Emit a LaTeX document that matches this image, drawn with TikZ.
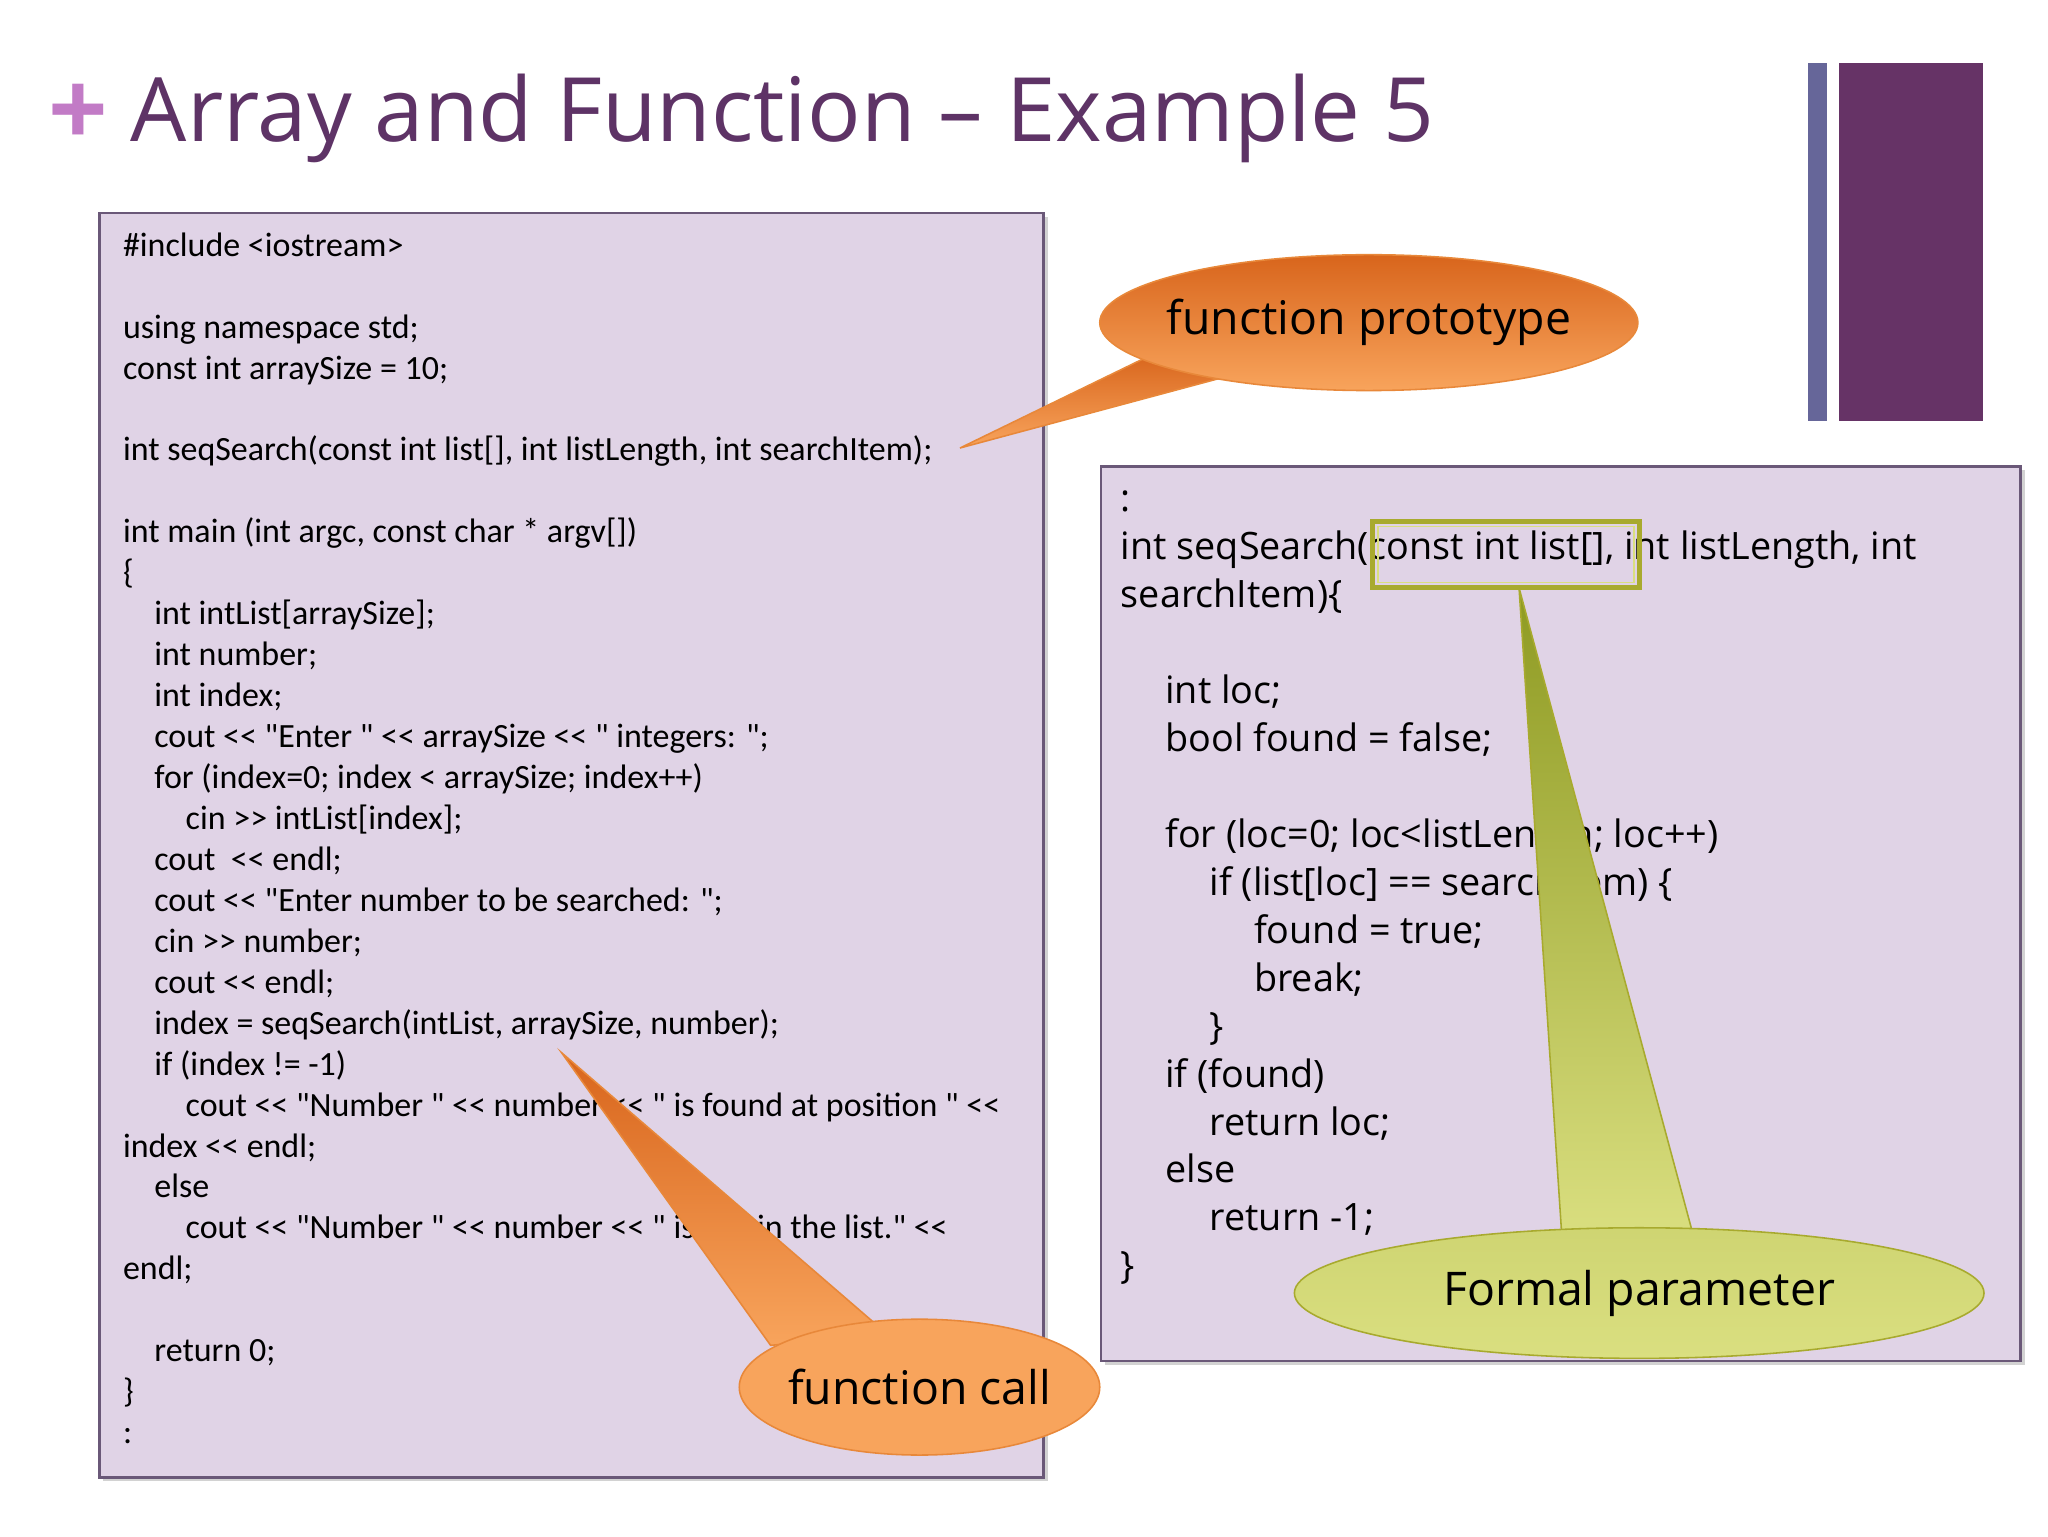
\documentclass[tikz,border=0pt]{standalone}
\usepackage{fontspec}
\setmainfont{Open Sans}
\newfontfamily\codefont{Carlito}
\usetikzlibrary{shadows,shapes.geometric}
\definecolor{boxfill}{HTML}{E0D3E6}
\definecolor{boxline}{HTML}{6A5878}
\definecolor{titlec}{HTML}{5E3366}
\definecolor{plumbar}{HTML}{663366}
\definecolor{slatebar}{HTML}{666699}
\definecolor{plusc}{HTML}{C27BC6}
\definecolor{orgA}{HTML}{D8651C}
\definecolor{orgB}{HTML}{F8A45C}
\definecolor{orgL}{HTML}{E8883A}
\definecolor{ylwA}{HTML}{8E9A22}
\definecolor{ylwB}{HTML}{DADF80}
\definecolor{ylwL}{HTML}{A8AA2E}
\tikzset{
 codebox/.style={fill=boxfill,draw=boxline,line width=2pt,drop shadow={opacity=0.35,shadow xshift=3pt,shadow yshift=-3pt}},
 lcode/.style={anchor=north west,inner sep=0pt,align=left,font=\codefont\fontsize{26}{31.35}\selectfont},
 rcode/.style={anchor=north west,inner sep=0pt,align=left,font=\fontsize{28.9}{36.7}\selectfont},
 orangecall/.style={top color=orgA,bottom color=orgB,draw=orgL,line width=1.2pt},
 yellowcall/.style={top color=ylwA,bottom color=ylwB,draw=ylwL,line width=1.2pt},
 bubble/.style={ellipse,inner ysep=0pt,inner xsep=-30pt,line width=1.2pt,font=\fontsize{35.5}{40}\selectfont},
}
\begin{document}
\begin{tikzpicture}[x=1pt,y=-1pt]
\useasboundingbox (0,0) rectangle (1568,1176);
\fill[white] (0,0) rectangle (1568,1176);
% side bars
\fill[slatebar] (1384,48) rectangle (1399,322);
\fill[plumbar] (1408,48) rectangle (1518,322);
% title
\node[font=\fontsize{80}{80}\selectfont\bfseries,text=plusc,inner sep=0pt] (plus) at (60,88) {+};
\node[anchor=base west,font=\fontsize{68}{80}\selectfont,text=titlec,inner sep=0pt] (title) at (100,108) {Array and Function -- Example 5};
% boxes
\draw[codebox] (76,163) rectangle (799,1131);
\draw[codebox] (843,357) rectangle (1547,1042);
\node[lcode] (lc) at (94,174) {\strut\#include <iostream>\\
\strut\\
\strut using namespace std;\\
\strut const int arraySize = 10;\\
\strut\\
\strut int seqSearch(const int list[], int listLength, int searchItem);\\
\strut\\
\strut int main (int argc, const char * argv[])\\
\strut\{\\
\strut\hspace*{24pt}int intList[arraySize];\\
\strut\hspace*{24pt}int number;\\
\strut\hspace*{24pt}int index;\\
\strut\hspace*{24pt}cout << "Enter " << arraySize << " integers: ";\\
\strut\hspace*{24pt}for (index=0; index < arraySize; index++)\\
\strut\hspace*{48pt}cin >> intList[index];\\
\strut\hspace*{24pt}cout~ << endl;\\
\strut\hspace*{24pt}cout << "Enter number to be searched: ";\\
\strut\hspace*{24pt}cin >> number;\\
\strut\hspace*{24pt}cout << endl;\\
\strut\hspace*{24pt}index = seqSearch(intList, arraySize, number);\\
\strut\hspace*{24pt}if (index != -1)\\
\strut\hspace*{48pt}cout << "Number " << number << " is found at position " <<\\
\strut index << endl;\\
\strut\hspace*{24pt}else\\
\strut\hspace*{48pt}cout << "Number " << number << " is not in the list." <<\\
\strut endl;\\
\strut\\
\strut\hspace*{24pt}return 0;\\
\strut\}\\
\strut :};
\node[rcode] (rc) at (858,366) {\strut :\\
\strut int seqSearch(const int list[], int listLength, int\\
\strut searchItem)\{\\
\strut\\
\strut\hspace*{34pt}int loc;\\
\strut\hspace*{34pt}bool found = false;\\
\strut\\
\strut\hspace*{34pt}for (loc=0; loc<listLength; loc++)\\
\strut\hspace*{68pt}if (list[loc] == searchItem) \{\\
\strut\hspace*{102pt}found = true;\\
\strut\hspace*{102pt}break;\\
\strut\hspace*{68pt}\}\\
\strut\hspace*{34pt}if (found)\\
\strut\hspace*{68pt}return loc;\\
\strut\hspace*{34pt}else\\
\strut\hspace*{68pt}return -1;\\
\strut\}};
% highlight
\draw[ylwL,line width=4pt] (1051,399) rectangle (1255,450);
\draw[ylwB,line width=1.2pt] (1055,403) rectangle (1251,446);
\coordinate (hl) at (1163,450);
% function prototype callout
\coordinate (fpt) at (735,343);
\draw[orangecall] (885,270) -- (fpt) -- (955,284) -- cycle;
\node[bubble,minimum width=412pt,minimum height=104pt,orangecall] (fp) at (1048,247) {\raisebox{8pt}{function prototype}};
% function call callout
\coordinate (fct) at (430,806);
\draw[orangecall] (590,1030) -- (fct) -- (680,1022) -- cycle;
\node[bubble,minimum width=276pt,minimum height=104pt,fill=orgB,draw=orgL] (fc) at (704,1062) {function call};
% formal parameter callout
\draw[yellowcall] (1196,950) -- (hl) -- (1297,948) -- cycle;
\node[bubble,minimum width=528pt,minimum height=100pt,bottom color=ylwB,top color=ylwB!85!ylwA,draw=ylwL] (fpar) at (1255,990) {Formal parameter};
\end{tikzpicture}
\end{document}
